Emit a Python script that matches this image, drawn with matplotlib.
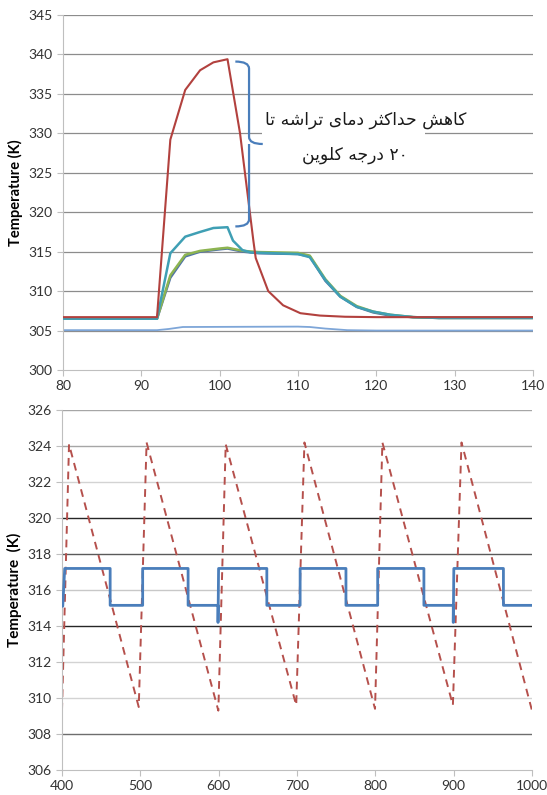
import matplotlib
matplotlib.use("Agg")
from matplotlib import pyplot as plt
from matplotlib.path import Path
from matplotlib.patches import PathPatch, Rectangle

# ---- top panel data (time, temperature in K) ----
red_x = [80, 92, 93.7, 95.6, 97.5, 99.2, 101.0, 102.6, 104.3, 104.6, 106.2, 108.1, 110.3, 112.8, 116, 120, 140]
red_y = [306.7, 306.7, 329.2, 335.5, 338.0, 339.0, 339.4, 330.0, 316.4, 314.2, 310.0, 308.2, 307.2, 306.9, 306.75, 306.7, 306.7]

teal_x = [80, 92, 93.7, 95.6, 97.5, 99.2, 101.0, 101.7, 102.9, 104, 107, 110, 111.5, 113.5, 115.4, 117.5, 119.6, 121.8, 124.7, 128, 140]
teal_y = [306.5, 306.5, 314.8, 316.9, 317.5, 318.0, 318.1, 316.4, 315.2, 314.9, 314.8, 314.7, 314.3, 311.4, 309.3, 308.0, 307.4, 307.0, 306.7, 306.6, 306.6]

green_x = [80, 92, 93.7, 95.6, 97.5, 100, 101.0, 103, 105, 110, 111.5, 113.5, 115.4, 117.5, 119.6, 121.8, 124.7, 128, 140]
green_y = [306.5, 306.5, 312.0, 314.6, 315.1, 315.4, 315.5, 315.1, 314.95, 314.85, 314.5, 311.5, 309.4, 308.1, 307.4, 307.0, 306.7, 306.6, 306.6]

blue_x = [80, 92, 93.7, 95.6, 97.5, 100, 101.0, 103, 105, 110, 111.5, 113.5, 115.4, 117.5, 119.6, 121.8, 124.7, 128, 140]
blue_y = [306.5, 306.5, 311.7, 314.4, 315.0, 315.3, 315.4, 315.0, 314.8, 314.7, 314.4, 311.3, 309.3, 308.0, 307.3, 306.9, 306.7, 306.6, 306.6]

base_x = [80, 92, 93.5, 95.3, 110, 111.5, 113.5, 116.3, 120, 140]
base_y = [305.05, 305.05, 305.2, 305.45, 305.5, 305.45, 305.25, 305.05, 305.0, 305.0]

# ---- bottom panel data ----
saw_x = [400, 409, 498, 508, 599.6, 609, 699, 709.5, 799.6, 809, 899, 910, 1000]
saw_y = [309.3, 324.1, 309.5, 324.2, 309.3, 324.1, 309.6, 324.2, 309.4, 324.2, 309.6, 324.2, 309.3]

step_x = [400, 401, 403.5, 461.5, 461.5, 503, 503, 561, 561, 599.2, 599.2, 599.9, 661.5, 661.5,
          704, 704, 762.5, 762.5, 803, 803, 862, 862, 899.5, 899.5, 900.2, 963.5, 963.5, 1000]
step_y = [315.1, 315.1, 317.2, 317.2, 315.15, 315.15, 317.2, 317.2, 315.15, 315.15, 314.2, 317.2, 317.2, 315.15,
          315.15, 317.2, 317.2, 315.15, 315.15, 317.2, 317.2, 315.15, 315.15, 314.2, 317.2, 317.2, 315.15, 315.15]

top_yticks = [300, 305, 310, 315, 320, 325, 330, 335, 340, 345]
top_xticks = [80, 90, 100, 110, 120, 130, 140]
bot_yticks = [306, 308, 310, 312, 314, 316, 318, 320, 322, 324, 326]
bot_xticks = [400, 500, 600, 700, 800, 900, 1000]
bot_grid_colors = {326: "#a6a6a6", 324: "#a6a6a6", 322: "#d3d3d3", 320: "#262626", 318: "#5a5a5a",
                   316: "#c8c8c8", 314: "#262626", 312: "#d3d3d3", 310: "#d3d3d3", 308: "#6e6e6e"}

note_line1 = "کاهش حداکثر دمای تراشه تا"
note_line2 = "۲۰ درجه کلوین"

# Arabic presentation forms: isolated, final, initial, medial
FORMS = {
    "ا": ("\uFE8D", "\uFE8E", None, None),
    "ت": ("\uFE95", "\uFE96", "\uFE97", "\uFE98"),
    "ث": ("\uFE99", "\uFE9A", "\uFE9B", "\uFE9C"),
    "ج": ("\uFE9D", "\uFE9E", "\uFE9F", "\uFEA0"),
    "ح": ("\uFEA1", "\uFEA2", "\uFEA3", "\uFEA4"),
    "د": ("\uFEA9", "\uFEAA", None, None),
    "ر": ("\uFEAD", "\uFEAE", None, None),
    "ش": ("\uFEB5", "\uFEB6", "\uFEB7", "\uFEB8"),
    "ل": ("\uFEDD", "\uFEDE", "\uFEDF", "\uFEE0"),
    "م": ("\uFEE1", "\uFEE2", "\uFEE3", "\uFEE4"),
    "ن": ("\uFEE5", "\uFEE6", "\uFEE7", "\uFEE8"),
    "ه": ("\uFEE9", "\uFEEA", "\uFEEB", "\uFEEC"),
    "و": ("\uFEED", "\uFEEE", None, None),
    "ک": ("\uFB8E", "\uFB8F", "\uFB90", "\uFB91"),
    "ی": ("\uFBFC", "\uFBFD", "\uFBFE", "\uFBFF"),
}


def shape_word(word):
    out = []
    for i, ch in enumerate(word):
        if ch not in FORMS:
            out.append(ch)
            continue
        prev_joins = i > 0 and word[i - 1] in FORMS and FORMS[word[i - 1]][2] is not None
        next_joins = i < len(word) - 1 and word[i + 1] in FORMS and FORMS[ch][2] is not None
        if prev_joins and next_joins:
            out.append(FORMS[ch][3])
        elif prev_joins:
            out.append(FORMS[ch][1])
        elif next_joins:
            out.append(FORMS[ch][2])
        else:
            out.append(FORMS[ch][0])
    return "".join(out)


def rtl(text):
    words = []
    for w in text.split(" "):
        if w.isdigit():
            words.append(w)
        else:
            words.append(shape_word(w)[::-1])
    return " ".join(words[::-1])


def brace(ax, x0, xs, xt, top, bottom, r, color):
    mid = (top + bottom) / 2
    verts = [(x0, top), (xs, top), (xs, top - r), (xs, mid + r), (xs, mid), (xt, mid),
             (xs, mid), (xs, mid - r), (xs, bottom + r), (xs, bottom), (x0, bottom)]
    codes = [Path.MOVETO, Path.CURVE3, Path.CURVE3, Path.LINETO, Path.CURVE3, Path.CURVE3,
             Path.MOVETO, Path.CURVE3, Path.LINETO, Path.CURVE3, Path.CURVE3]
    ax.add_patch(PathPatch(Path(verts, codes), fill=False, edgecolor=color, lw=1.6, zorder=4))


plt.rcParams["font.family"] = ["Lato", "DejaVu Sans"]
plt.rcParams["font.size"] = 10

fig = plt.figure(figsize=(5.47, 7.95), dpi=100)
ax1 = fig.add_axes([0.1152, 0.5346, 0.8592, 0.4465])
ax2 = fig.add_axes([0.1133, 0.0314, 0.8593, 0.4528])

axis_gray = "#bfbfbf"
for ax in (ax1, ax2):
    for side in ("top", "right"):
        ax.spines[side].set_visible(False)
    ax.spines["left"].set_color(axis_gray)
    ax.spines["bottom"].set_color(axis_gray)
    ax.tick_params(colors=axis_gray, labelcolor="#333333", length=4, labelsize=10)

# top panel
for v in top_yticks[1:]:
    ax1.axhline(v, color="#8c8c8c", lw=0.9, zorder=1)
ax1.add_patch(Rectangle((105.4, 328.6), 20.8, 3.0, facecolor="white", edgecolor="none", zorder=1.5))
ax1.plot(base_x, base_y, color="#7ea6d8", lw=1.3, zorder=2)
ax1.plot(blue_x, blue_y, color="#4f72a8", lw=1.8, zorder=2)
ax1.plot(green_x, green_y, color="#8db451", lw=1.8, zorder=2)
ax1.plot(teal_x, teal_y, color="#3f9fb4", lw=1.8, zorder=3)
ax1.plot(red_x, red_y, color="#b2413e", lw=1.5, zorder=3)
brace(ax1, 102.0, 103.75, 105.5, max(red_y) - 0.3, max(teal_y) + 0.1, 0.9, "#4a7ebb")
ax1.text(118.7, 331.7, rtl(note_line1), family="DejaVu Sans", fontsize=12.3, ha="center", va="center",
         color="#1a1a1a", zorder=5)
ax1.text(117.2, 327.3, rtl(note_line2), family="DejaVu Sans", fontsize=12.3, ha="center", va="center",
         color="#1a1a1a", zorder=5)
ax1.set_xlim(80, 140)
ax1.set_ylim(300, 345)
ax1.set_xticks(top_xticks)
ax1.set_yticks(top_yticks)
ax1.set_ylabel("Temperature (K)", fontweight="bold", fontsize=10.5, labelpad=4)

# bottom panel
for v in bot_yticks[1:]:
    ax2.axhline(v, color=bot_grid_colors[v], lw=1.0, zorder=1)
ax2.plot(step_x, step_y, color="#4a7ebb", lw=2.0, zorder=3)
ax2.plot(saw_x, saw_y, color="#b5504c", lw=1.4, dashes=(4, 3), zorder=2)
ax2.set_xlim(400, 1000)
ax2.set_ylim(306, 326)
ax2.set_xticks(bot_xticks)
ax2.set_yticks(bot_yticks)
ax2.set_ylabel("Temperature  (K)", fontweight="bold", fontsize=11, labelpad=4)

fig.savefig("out.png", dpi=100)
